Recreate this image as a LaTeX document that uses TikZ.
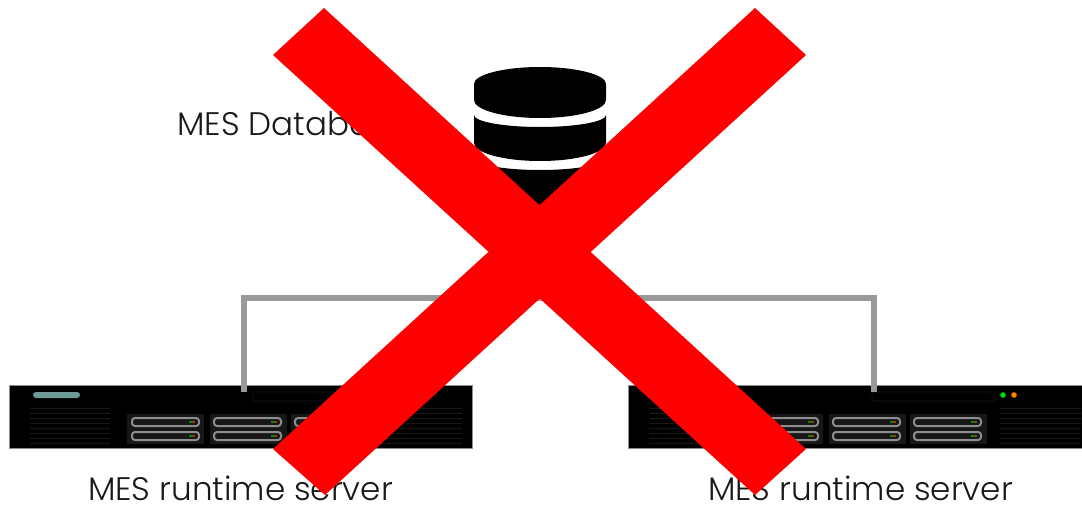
\documentclass[tikz,border=0pt]{standalone}
\usepackage{fontspec}
\setmainfont{Poppins}[UprightFont=* Light]
\usepackage{tikz}
\usetikzlibrary{positioning}
\definecolor{crossred}{HTML}{FF0000}
\definecolor{linkgray}{HTML}{999999}
\definecolor{pillteal}{HTML}{6F9A98}
\definecolor{baygray}{HTML}{171717}
\definecolor{drivegray}{HTML}{8E8E8E}
\tikzset{
  serverbox/.style={draw=black!45,line width=0.8pt,fill=black,minimum width=463pt,minimum height=63pt,inner sep=0pt,outer sep=0pt},
  caption/.style={font=\fontsize{32.6}{36}\selectfont,text=black!90,inner sep=0pt},
  link/.style={draw=linkgray,line width=5.5pt,line cap=butt,line join=miter},
  drive/.style={draw=drivegray,line width=2pt,rounded corners=3pt},
  ventline/.style={draw=black!90,line width=0.8pt}
}
\begin{document}
\begin{tikzpicture}[x=1pt,y=-1pt]
  \useasboundingbox (0,0) rectangle (1082,506);
  \clip (0,0) rectangle (1082,506);
  \fill[white] (0,0) rectangle (1082,506);

  % servers
  \node[serverbox] (srvA) at (240.5,416.5) {};
  \node[serverbox] (srvB) at (859.5,416.5) {};
  \foreach \off in {0,619} {
    \begin{scope}[xshift=\off pt]
      \draw[black!92,line width=0.7pt,rounded corners=1pt] (253,392) rectangle (376,401);
      \foreach \cx in {127,210,291} {
        \fill[baygray] (\cx,414) rectangle +(77,30);
      }
      \foreach \cx in {132,214,295} {
        \foreach \cy in {418,432} {
          \draw[drive] (\cx,\cy) rectangle +(67,8);
          \fill[green!55!black] (\cx+57,\cy+3) rectangle +(3,2);
          \fill[orange!55!black] (\cx+60,\cy+3) rectangle +(3,2);
        }
      }
      \foreach \vy in {408,413,...,443} {
        \draw[ventline] (30,\vy) -- (110,\vy);
        \draw[ventline] (381,\vy) -- (462,\vy);
      }
    \end{scope}
  }
  \fill[pillteal,rounded corners=3pt] (33,392) rectangle (80,398);
  \fill[green!85!black] (1003,395) circle (2.8pt);
  \fill[orange] (1014,395) circle (2.8pt);

  % database
  \fill[black] (474,84) arc[start angle=180,end angle=360,x radius=66,y radius=17]
    -- (606,100) arc[start angle=0,end angle=180,x radius=66,y radius=18] -- cycle;
  \fill[black] (474,115) arc[start angle=180,end angle=0,x radius=66,y radius=12]
    -- (606,143) arc[start angle=0,end angle=180,x radius=66,y radius=18] -- cycle;
  \fill[black] (474,158) arc[start angle=180,end angle=0,x radius=66,y radius=12]
    -- (606,185) arc[start angle=0,end angle=180,x radius=66,y radius=30] -- cycle;

  % connector
  \coordinate (linkA) at (244,392);
  \coordinate (linkB) at (874,392);
  \coordinate (busA) at (244,298);
  \coordinate (busB) at (874,298);
  \draw[link] (linkA) -- (busA) -- (busB) -- (linkB);

  % labels
  \node[caption,anchor=base west] (dbLabel) at (177,135) {MES Database};
  \node[caption,anchor=base] (srvLabelA) at (240.5,500.5) {MES runtime server};
  \node[caption,anchor=base] (srvLabelB) at (860.5,500.5) {MES runtime server};

  % cross
  \fill[crossred] (324,8) -- (806,449) -- (755,495) -- (273,55) -- cycle;
  \fill[crossred] (755,8) -- (806,55) -- (325,495) -- (273,449) -- cycle;
\end{tikzpicture}
\end{document}
